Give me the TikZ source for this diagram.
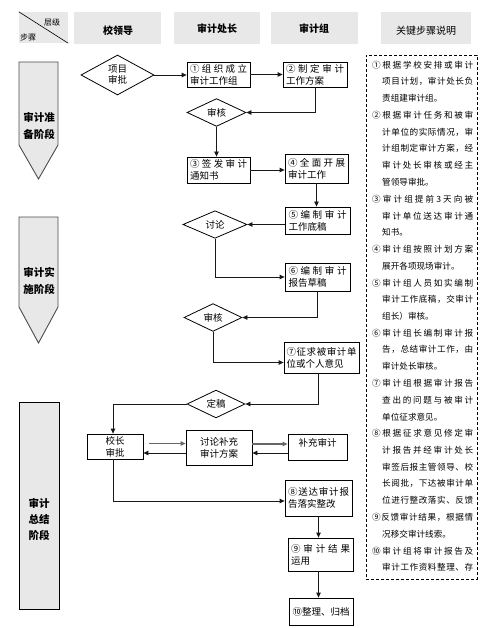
\documentclass[tikz,border=0pt]{standalone}
\usepackage{fontspec}
\setmainfont{Noto Sans CJK SC}
\usetikzlibrary{shapes.geometric,arrows.meta}
\ExplSyntaxOn
\NewDocumentCommand\spr{m m}{\makebox[#1][s]{\tl_map_inline:nn{#2}{##1\hfil}\unskip}}
\ExplSyntaxOff
\newcommand\kF[2]{\node[keyt] (k#1) at (372,{65+16.75*#1}) {\spr{101pt}{#2}};}
\newcommand\kC[2]{\node[keyt] (k#1) at (382,{65+16.75*#1}) {\spr{91pt}{#2}};}
\newcommand\kN[2]{\node[keyt] (k#1) at (382,{65+16.75*#1}) {#2};}
\begin{document}
\begin{tikzpicture}[x=1pt,y=-1pt,
  >={Triangle[length=5pt,width=4.5pt]},
  hdr/.style={fill=gray!18,inner sep=0,minimum height=32pt},
  htxt/.style={inner sep=0,font=\fontsize{10}{12}\selectfont},
  stage/.style={fill=gray!18,draw=black!70,line width=0.9pt},
  stagetxt/.style={inner sep=0,align=center,font=\bfseries\fontsize{10.5}{16.5}\selectfont},
  stepbox/.style={draw,line width=0.8pt,inner sep=0,align=left,font=\fontsize{9.5}{12}\selectfont},
  dmd/.style={diamond,draw,line width=0.8pt,inner sep=0,align=center,font=\fontsize{9.5}{11}\selectfont},
  keyt/.style={inner sep=0,anchor=west,font=\fontsize{8.6}{10}\selectfont},
  conn/.style={->,line width=0.8pt,draw=black!90}]
\useasboundingbox (0,0) rectangle (495,628);
% headers
\node[hdr,minimum width=49pt,minimum height=31pt] (hc) at (43.5,27.5) {};
\draw[line width=0.6pt] (hc.north west) -- (hc.south east);
\node[inner sep=0,font=\fontsize{8}{8}\selectfont] (hc1) at (52,22) {层级};
\node[inner sep=0,font=\fontsize{8}{8}\selectfont] (hc2) at (28,37) {步骤};
\node[hdr,minimum width=87pt] (h1) at (117.5,28) {};
\node[hdr,minimum width=86pt] (h2) at (217,28) {};
\node[hdr,minimum width=87pt] (h3) at (314.5,28) {};
\node[hdr,minimum width=90pt] (h4) at (426,28) {};
\node[htxt,font=\bfseries\fontsize{10}{12}\selectfont] (t1) at (118,31) {校领导};
\node[htxt,font=\bfseries\fontsize{10}{12}\selectfont] (t2) at (217,29) {审计处长};
\node[htxt,font=\bfseries\fontsize{10}{12}\selectfont] (t3) at (314,29) {审计组};
\node[htxt] (t4) at (426,31) {关键步骤说明};
% stages
\draw[stage] (19,62) -- (58,62) -- (58,145) -- (38.5,179) -- (19,145) -- cycle;
\node[stagetxt] (s1) at (39,126) {审计准\\备阶段};
\draw[stage] (19,217) -- (58,217) -- (58,307) -- (38.5,343) -- (19,307) -- cycle;
\node[stagetxt] (s2) at (39,281) {审计实\\施阶段};
\draw[stage,draw=black] (19,402) rectangle (59,609);
\node[stagetxt,font=\bfseries\fontsize{10.5}{16}\selectfont] (s3) at (39,519) {审计\\总结\\阶段};
% flow nodes
\node[dmd,minimum width=73pt,minimum height=40pt] (d1) at (117.5,75) {项目\\审批};
\node[stepbox,minimum width=63pt,minimum height=25pt] (b1) at (218.5,74.5) {\spr{57pt}{①组织成立}\\审计工作组};
\node[stepbox,minimum width=64pt,minimum height=25pt] (b2) at (315,74.5) {\spr{58pt}{②制定审计}\\工作方案};
\node[dmd,minimum width=59pt,minimum height=25pt] (d2) at (216.5,112.5) {审核};
\node[stepbox,minimum width=63pt,minimum height=26pt] (b3) at (218.5,170) {\spr{57pt}{③签发审计}\\通知书};
\node[stepbox,minimum width=63pt,minimum height=29pt] (b4) at (316.5,168.5) {\spr{57pt}{④全面开展}\\审计工作};
\node[stepbox,minimum width=65pt,minimum height=27pt] (b5) at (317.5,220.5) {\spr{58pt}{⑤编制审计}\\工作底稿};
\node[dmd,minimum width=64pt,minimum height=27pt] (d3) at (215,224.5) {讨论};
\node[stepbox,minimum width=65pt,minimum height=28pt] (b6) at (317.5,277) {\spr{58pt}{⑥编制审计}\\报告草稿};
\node[dmd,minimum width=58pt,minimum height=23pt] (d4) at (213,317.5) {审核};
\node[stepbox,minimum width=75pt,minimum height=31pt] (b7) at (321.5,357.5) {\spr{70pt}{⑦征求被审计单}\\位或个人意见};
\node[dmd,minimum width=58pt,minimum height=24pt] (d5) at (216,404) {定稿};
\node[stepbox,align=center,minimum width=56pt,minimum height=25pt] (xz) at (115,446.5) {校长\\审批};
\node[stepbox,align=center,minimum width=66pt,minimum height=35pt] (tl) at (219,447.5) {讨论补充\\审计方案};
\node[stepbox,minimum width=59pt,minimum height=26pt] (bc) at (317.5,447) {补充审计\\[-3pt]\mbox{}};
\node[stepbox,minimum width=67pt,minimum height=36pt] (b8) at (318.5,498) {\spr{61pt}{⑧送达审计报}\\告落实整改};
\node[stepbox,minimum width=65pt,minimum height=33pt] (b9) at (320.5,554.5) {\spr{59pt}{⑨审计结果}\\运用};
\node[stepbox,minimum width=64pt,minimum height=27pt] (b10) at (321,611.5) {⑩整理、归档};
% connectors
\draw[conn] (d1.east) -- (d1.east -| b1.west);
\draw[conn] (b1.east) -- (b1.east -| b2.west);
\draw[conn] (b2.south) |- (d2.east);
\draw[conn] (d2.south) -- (d2.south |- b3.north);
\draw[conn] (b3.east) -- (b3.east -| b4.west);
\draw[conn] (b4.south) -- (b4.south |- b5.north);
\draw[conn] (d3.east -| b5.west) -- (d3.east);
\draw[conn] (d3.south) |- (b6.west);
\draw[conn] (b6.south) |- (d4.east);
\draw[conn] (d4.south) |- ([yshift=-5pt]b7.west);
\draw[conn] ([xshift=-3.5pt]b7.south) |- (d5.east);
\draw[conn] (d5.west) -| ([xshift=-2pt]xz.north);
\draw[conn,draw=black!60,line width=1.1pt,shorten <=6pt] ([yshift=3pt]xz.east) -- ([yshift=3pt]xz.east -| tl.west);
\draw[conn] ([yshift=-6.5pt]xz.east -| tl.west) -- ([yshift=-6.5pt]xz.east);
\draw[conn,draw=black!60,line width=1.1pt] ([yshift=3.5pt]tl.east) -- ([yshift=3.5pt]tl.east -| bc.west);
\draw[conn] ([yshift=-5.5pt]tl.east -| bc.west) -- ([yshift=-5.5pt]tl.east);
\draw[conn] ([xshift=-2pt]xz.south) |- ([yshift=-3pt]b8.west);
\draw[conn] (b8.south) -- (b8.south |- b9.north);
\draw[conn] (b8.south |- b9.south) -- (b8.south |- b10.north);
% key steps
\node[draw,dashed,line width=0.8pt,dash pattern=on 3pt off 2pt,minimum width=111pt,minimum height=524pt,inner sep=0] (kb) at (421.5,317) {};
\begin{scope}
\clip (kb.south west) rectangle (kb.north east);
\kF{0}{①根据学校安排或审计}
\kC{1}{项目计划，审计处长负}
\kN{2}{责组建审计组。}
\kF{3}{②根据审计任务和被审}
\kC{4}{计单位的实际情况，审}
\kC{5}{计组制定审计方案，经}
\kC{6}{审计处长审核或经主}
\kN{7}{管领导审批。}
\kF{8}{③审计组提前3天向被}
\kC{9}{审计单位送达审计通}
\kN{10}{知书。}
\kF{11}{④审计组按照计划方案}
\kN{12}{展开各项现场审计。}
\kF{13}{⑤审计组人员如实编制}
\kC{14}{审计工作底稿，交审计}
\kN{15}{组长）审核。}
\kF{16}{⑥审计组长编制审计报}
\kC{17}{告，总结审计工作，由}
\kN{18}{审计处长审核。}
\kF{19}{⑦审计组根据审计报告}
\kC{20}{查出的问题与被审计}
\kN{21}{单位征求意见。}
\kF{22}{⑧根据征求意见修定审}
\kC{23}{计报告并经审计处长}
\kC{24}{审签后报主管领导、校}
\kC{25}{长阅批，下达被审计单}
\kC{26}{位进行整改落实、反馈}
\kF{27}{⑨反馈审计结果，根据情}
\kN{28}{况移交审计线索。}
\kF{29}{⑩审计组将审计报告及}
\kC{30}{审计工作资料整理、存}
\kN{31}{档。}
\end{scope}
\end{tikzpicture}
\end{document}
